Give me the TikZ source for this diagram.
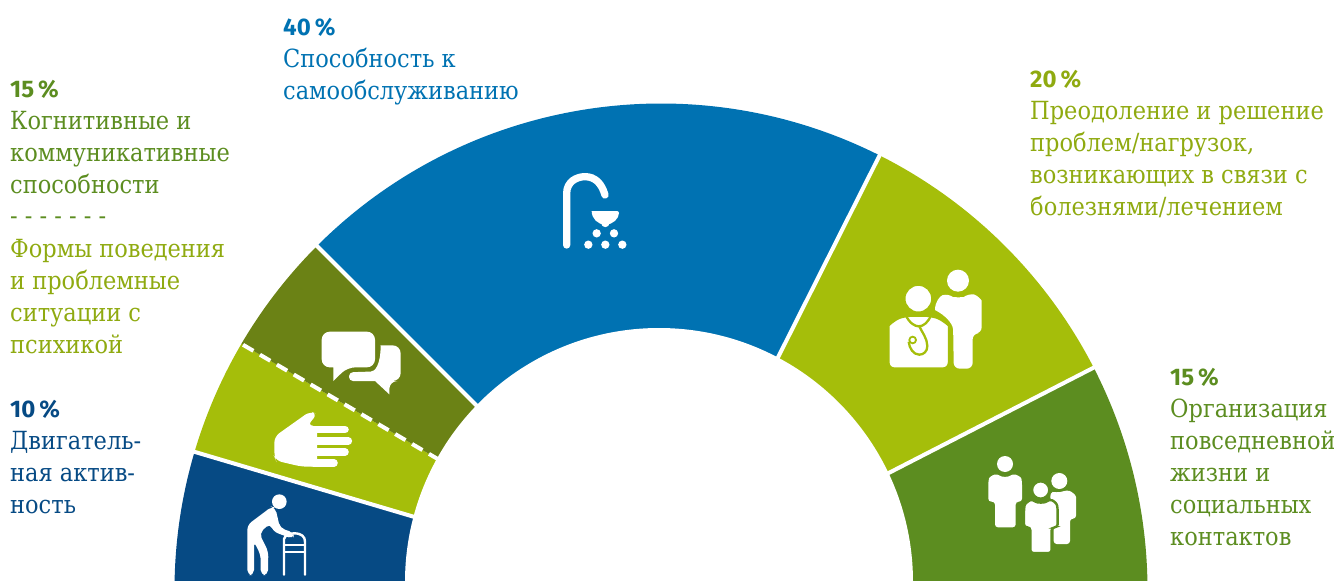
\documentclass[tikz,border=0pt]{standalone}
\usepackage{fontspec}
\setmainfont{DejaVu Serif Condensed}
\newfontfamily\numfont{Fira Sans}
\definecolor{cblue}{HTML}{0072B2}
\definecolor{cdark}{HTML}{064A84}
\definecolor{clime}{HTML}{A5BE0A}
\definecolor{colive}{HTML}{6B8215}
\definecolor{cgreen}{HTML}{5C8D20}
\definecolor{tlime}{HTML}{8FAA10}
\newcommand\seg[3]{\fill[#3] (#1:486.5pt) arc[start angle=#1,end angle=#2,radius=486.5pt] -- (0,0) -- cycle;}
\tikzset{
  pct/.style={anchor=base west,inner sep=0pt,font=\numfont\bfseries\fontsize{24}{32}\selectfont},
  lbl/.style={anchor=base west,inner sep=0pt,align=left,font=\fontsize{25}{32}\selectfont},
  icon/.style={x=0.33333pt,y=-0.33333pt,white},
}
\begin{document}
\begin{tikzpicture}[x=1pt,y=-1pt]
\useasboundingbox (0,0) rectangle (1334,581);
\clip (0,0) rectangle (1334,581);
% ring
\begin{scope}[shift={(661,590)}]
\seg{163.5}{185}{cdark}
\seg{149.6}{163.5}{clime}
\seg{135}{149.6}{colive}
\seg{63.3}{135}{cblue}
\seg{27.2}{63.3}{clime}
\seg{-5}{27.2}{cgreen}
\foreach \a in {163.5,135,63.3,27.2}
  \draw[white,line width=4pt] (\a:0pt) -- (\a:495pt);
\draw[white,line width=4pt,dash pattern=on 12pt off 7.6pt] (149.6:257pt) -- (149.6:486.5pt);
\end{scope}
\fill[white] (659,582) circle[radius=254pt];
% walker
\begin{scope}[shift={(170,240)},icon]
\fill (328,785) circle[radius=22];
\fill[rounded corners=5pt] (305,800) -- (232,855) -- (232,1005) -- (252,1005) -- (252,905) -- (272,945) -- (272,1005) -- (294,1005) -- (295,935) -- (268,880) -- (300,850) -- (310,875) -- (370,897) -- (372,878) -- (330,864) -- (316,803) -- cycle;
\draw[line width=2.4pt,line cap=round] (342,1004) -- (342,897) .. controls (345,885) and (360,880) .. (372,880) .. controls (395,880) and (405,890) .. (405,905) -- (405,1004);
\draw[line width=2pt] (342,916) -- (405,916) (342,936) -- (405,936);
\end{scope}
% hand
\begin{scope}[shift={(170,240)},icon]
\fill[rounded corners=6pt] (313,590) -- (420,514) -- (442,522) -- (412,557) -- (441,557) -- (441,680) -- (395,680) -- (318,662) -- (313,650) -- cycle;
\draw[line width=7.6pt,line cap=round] (430,569) -- (525,569) (430,603) -- (535,603) (430,636) -- (525,636) (430,669) -- (492,669);
\end{scope}
% speech bubbles
\begin{scope}[shift={(170,240)},icon]
\fill[rounded corners=8pt] (630,316) -- (692,316) -- (692,423) -- (658,423) [sharp corners] -- (658,463) -- (615,423) [rounded corners=4pt] -- (537,423) -- (537,397) -- (590,395) [sharp corners] .. controls (615,395) and (632,375) .. (632,316);
\fill[rounded corners=8pt] (455,275) -- (615,275) -- (615,382) -- (532,382) [sharp corners] -- (490,423) -- (490,382) [rounded corners=8pt] -- (455,382) -- cycle;
\end{scope}
% shower
\begin{scope}[shift={(540,150)},icon]
\draw[line width=7.3pt,line cap=round] (80,285) -- (80,130) .. controls (80,95) and (110,80) .. (135,80) .. controls (165,80) and (185,100) .. (195,135);
\fill[rounded corners=2pt] (155,183) arc[start angle=180,end angle=0,radius=41] [sharp corners] -- cycle;
\foreach \p in {(196,219),(170,250),(222,250),(145,284),(196,284),(247,284)}
  \fill \p circle[radius=12.5];
\end{scope}
% doctor and patient
\begin{scope}[shift={(870,260)},icon]
\fill (264,62) circle[radius=33];
\fill[rounded corners=6pt] (195,150) .. controls (195,125) and (210,108) .. (235,100) .. controls (250,112) and (280,112) .. (295,100) .. controls (320,105) and (335,120) .. (335,140) -- (335,220) -- (308,220) -- (308,326) -- (251,326) -- (250,225) .. controls (248,190) and (225,165) .. (195,150);
\fill[draw=clime,line width=2.5pt,rounded corners=6pt] (55,326) -- (55,215) .. controls (55,195) and (75,178) .. (105,167) -- (185,167) .. controls (215,178) and (237,195) .. (237,215) -- (237,326) -- cycle;
\fill[draw=clime,line width=2.3pt] (145,116) circle[radius=42];
\draw[clime,line width=2.3pt] (106,163) .. controls (118,190) and (135,199) .. (146,199) .. controls (160,199) and (175,188) .. (184,163);
\draw[clime,line width=2.3pt] (148,199) .. controls (155,215) and (172,235) .. (172,258) .. controls (172,275) and (160,284) .. (148,284) .. controls (130,284) and (118,265) .. (116,245);
\draw[clime,line width=1.8pt] (128,240) circle[radius=10];
\end{scope}
% three people
\begin{scope}[shift={(870,260)},icon]
\fill (405,612) circle[radius=24];
\fill[rounded corners=3pt] (355,725) -- (355,665) .. controls (358,650) and (370,645) .. (382,641) .. controls (395,652) and (415,652) .. (428,641) .. controls (440,645) and (453,650) .. (456,665) -- (456,725) -- (437,725) -- (437,802) -- (375,802) -- (375,725) -- cycle;
\fill (568,663) circle[radius=24];
\fill[rounded corners=3pt] (540,700) .. controls (550,695) and (565,700) .. (590,690) .. controls (605,695) and (618,705) .. (618,720) -- (618,776) -- (600,776) -- (600,852) -- (551,852) -- (551,800) -- cycle;
\fill[draw=cgreen,line width=2.4pt] (512,690) circle[radius=26];
\fill[draw=cgreen,line width=2.4pt,rounded corners=3pt] (462,802) -- (462,745) .. controls (465,730) and (477,722) .. (489,718) .. controls (500,729) and (525,729) .. (537,718) .. controls (550,722) and (560,730) .. (563,745) -- (563,802) -- (545,802) -- (545,879) -- (481,879) -- (481,802) -- cycle;
\end{scope}
% texts
\node[pct,text=cblue] (p40) at (283,35) {40\,\%};
\node[lbl,text=cblue] (t40) at (283,99) {Способность к\\самообслуживанию};
\node[pct,text=cgreen] (p15a) at (10,97) {15\,\%};
\node[lbl,text=cgreen] (t15a) at (10,193) {Когнитивные и\\коммуникативные\\способности};
\node[lbl,text=cgreen] (dash) at (10,224) {- - - - - - -};
\node[lbl,text=tlime] (t15b) at (10,353) {Формы поведения\\и проблемные\\ситуации с\\психикой};
\node[pct,text=cdark] (p10) at (10,417) {10\,\%};
\node[lbl,text=cdark] (t10) at (10,513) {Двигатель-\\ная актив-\\ность};
\node[pct,text=tlime] (p20) at (1030,87) {20\,\%};
\node[lbl,text=tlime] (t20) at (1030,215) {Преодоление и решение\\проблем/нагрузок,\\возникающих в связи с\\болезнями/лечением};
\node[pct,text=cgreen] (p15c) at (1170,385) {15\,\%};
\node[lbl,text=cgreen] (t15c) at (1170,545) {Организация\\повседневной\\жизни и\\социальных\\контактов};
\end{tikzpicture}
\end{document}
